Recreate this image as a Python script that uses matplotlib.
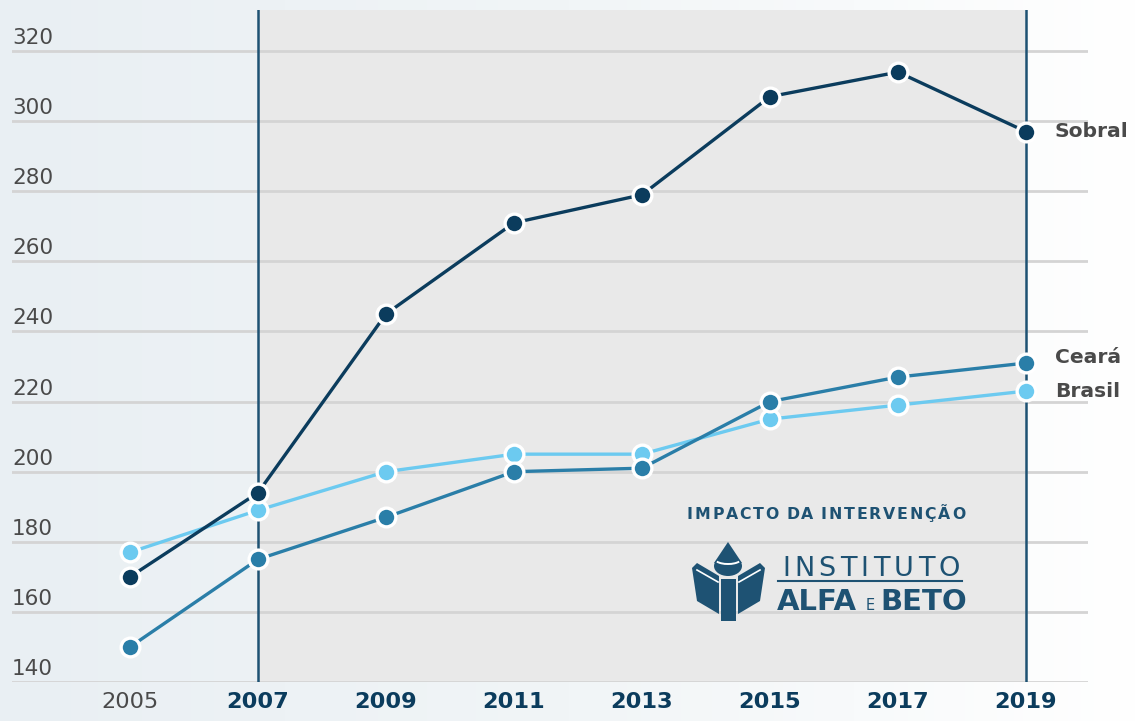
import numpy as np
import matplotlib
matplotlib.use("Agg")
import matplotlib.pyplot as plt
from matplotlib.patches import Polygon, Ellipse, Arc
from matplotlib.lines import Line2D

# data
years = [2005, 2007, 2009, 2011, 2013, 2015, 2017, 2019]
sobral = [170, 194, 245, 271, 279, 307, 314, 297]
ceara = [150, 175, 187, 200, 201, 220, 227, 231]
brasil = [177, 189, 200, 205, 205, 215, 219, 223]
yticks = [140, 160, 180, 200, 220, 240, 260, 280, 300, 320]

NAVY = "#0b3c5d"
MID = "#2a7ea8"
LIGHT = "#6ccaf0"
LINE = "#1e5273"
TXT = "#4a4a4a"
SHADE = "#e9e9e9"

plt.rcParams["font.family"] = ["DejaVu Sans"]

W, H = 1139, 721
fig = plt.figure(figsize=(W / 100, H / 100), dpi=100)
renderer = fig.canvas.get_renderer()

def fx(x):
    return x / W

def fy(y):
    return 1 - y / H

def tracked(x, y, s, width, **kw):
    # spread the letters of s between pixel x and x+width (baseline at y)
    arts = [fig.text(0, 0, c, **kw) for c in s]
    ws = []
    for a, c in zip(arts, s):
        ws.append(a.get_window_extent(renderer).width if c != " " else 4)
    gap = (width - sum(ws)) / (len(s) - 1)
    cx = x
    for a, w in zip(arts, ws):
        a.set_position((fx(cx), fy(y)))
        a.set_ha("left")
        a.set_va("baseline")
        cx += w + gap

# background gradient: bluish on the left, white on the right
bg = fig.add_axes([0, 0, 1, 1], zorder=0)
grad = np.linspace(0, 1, 256)[None, :]
cmap = matplotlib.colors.LinearSegmentedColormap.from_list("bg", ["#e9eff3", "#f1f5f7", "#ffffff"])
bg.imshow(grad, aspect="auto", cmap=cmap, extent=[0, 1, 0, 1])
bg.set_axis_off()

ax = fig.add_axes([fx(12), fy(682), fx(1088) - fx(12), fy(10) - fy(682)], zorder=1)
ax.patch.set_alpha(0)
x0 = 2005 - 118 / 64
x1 = 2005 + 958 / 64
ax.set_xlim(x0, x1)
ax.set_ylim(140, 320 + 41 / 3.5)

# shaded intervention period
ax.axvspan(2007, 2019, color=SHADE, zorder=0)
for yr in (2007, 2019):
    ax.axvline(yr, color=LINE, lw=1.8, zorder=1)

for v in yticks:
    ax.axhline(v, color="#d4d4d4", lw=2, zorder=0.5)
    ax.text(x0, v + 2.0, str(v), fontsize=15.5, color=TXT, ha="left", va="baseline")

for vals, col in ((brasil, LIGHT), (ceara, MID), (sobral, NAVY)):
    ax.plot(years, vals, color=col, lw=2.4, marker="o", ms=13.5, mfc=col,
            mec="white", mew=2.4, zorder=3, clip_on=False)

lab_kw = dict(fontsize=14.6, fontweight="bold", color=TXT, va="center")
ax.text(2019.45, sobral[-1], "Sobral", **lab_kw)
ax.text(2019.45, ceara[-1] + 1.5, "Ceará", **lab_kw)
ax.text(2019.45, brasil[-1], "Brasil", **lab_kw)

ax.set_xticks(years)
ax.set_xticklabels([str(y) for y in years])
ax.tick_params(axis="x", length=0, pad=7.5, labelsize=16.2)
for i, lab in enumerate(ax.get_xticklabels()):
    if i == 0:
        lab.set_color(TXT)
    else:
        lab.set_color(NAVY)
        lab.set_fontweight("bold")
ax.set_yticks([])
for s in ax.spines.values():
    s.set_visible(False)

# logo block
tracked(687, 519, "IMPACTO DA INTERVENÇÃO", 278, fontsize=11.3, fontweight="bold",
        color=LINE, zorder=5)
tracked(782, 576, "INSTITUTO", 178, fontsize=19.5, color=LINE, zorder=5)
fig.add_artist(Line2D([fx(778), fx(962)], [fy(580.5), fy(580.5)], color=LINE, lw=1.5, zorder=5))
fig.text(fx(777), fy(610), "ALFA", fontsize=21, fontweight="bold", color=LINE,
         ha="left", va="baseline", zorder=5)
fig.text(fx(866), fy(610), "E", fontsize=10.5, color=LINE, ha="left", va="baseline", zorder=5)
fig.text(fx(880), fy(610), "BETO", fontsize=21, fontweight="bold", color=LINE,
         ha="left", va="baseline", zorder=5)

# book-and-pencil icon
def poly(pts, color=LINE, z=5):
    p = Polygon([(fx(a), fy(b)) for a, b in pts], closed=True, transform=fig.transFigure,
                facecolor=color, edgecolor="none", zorder=z)
    fig.add_artist(p)

poly([(728, 542), (714, 563), (742, 563)])
fig.add_artist(Ellipse((fx(728), fy(566)), 28 / W, 20 / H, transform=fig.transFigure,
                       facecolor=LINE, edgecolor="none", zorder=5))
fig.add_artist(Arc((fx(728), fy(559)), 26 / W, 10 / H, theta1=200, theta2=340,
                   transform=fig.transFigure, color="white", lw=1.4, zorder=6))
# wings and spine
poly([(692, 568), (697, 563), (719, 576), (719, 614), (697, 601)])
poly([(765, 568), (760, 563), (738, 576), (738, 614), (760, 601)])
poly([(721, 579), (736, 579), (736, 621), (721, 621)])
fig.add_artist(Line2D([fx(697), fx(718)], [fy(570), fy(582)], color="white", lw=1.2, zorder=6))
fig.add_artist(Line2D([fx(760), fx(739)], [fy(570), fy(582)], color="white", lw=1.2, zorder=6))

fig.savefig("out.png", dpi=100)
